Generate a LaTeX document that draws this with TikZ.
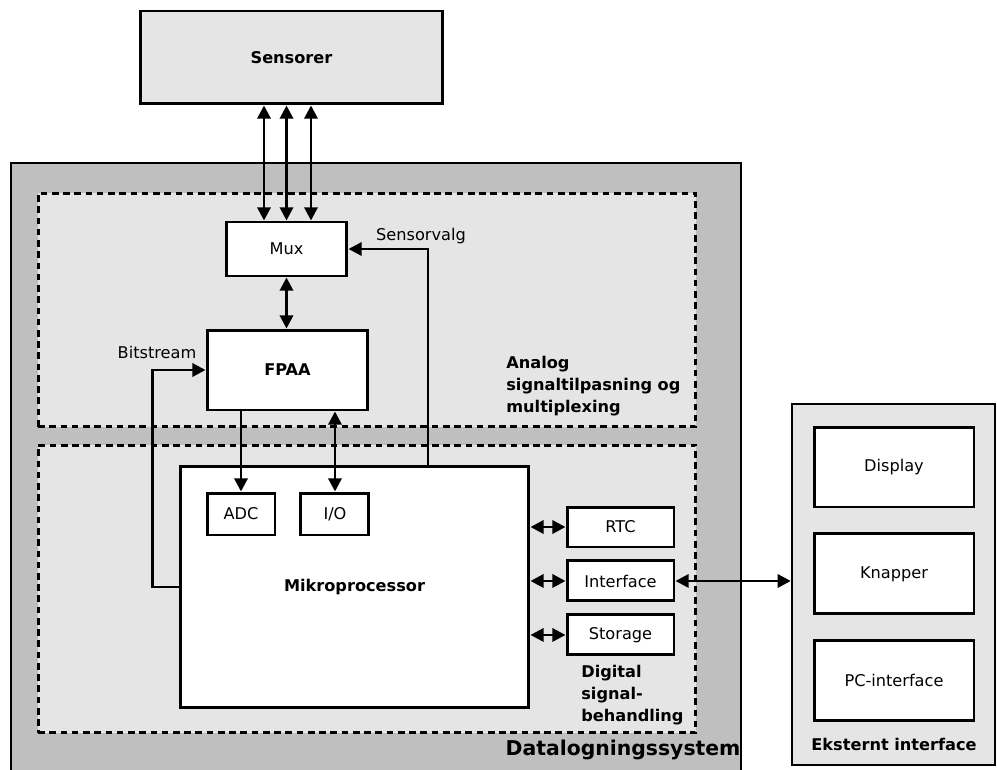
\documentclass[tikz,border=0pt]{standalone}
\usepackage{fontspec}
\setmainfont{DejaVu Sans}
\usepackage{xcolor}
\usepackage{tikz}
\usetikzlibrary{positioning, arrows.meta}
\definecolor{outergray}{HTML}{BFBFBF}
\definecolor{innergray}{HTML}{E5E5E5}

\begin{document}
\begin{tikzpicture}[
            x=0.02cm, y=-0.02cm,
            block/.style={rectangle, draw=black, fill=white, line width=1.7pt, inner sep=0pt, font=\fontsize{9.2}{11}\selectfont},
            keyblock/.style={block, font=\fontsize{9.2}{11}\selectfont\bfseries},
            sysbox/.style={rectangle, draw=black, fill=outergray, line width=1.4pt},
            stagebox/.style={rectangle, draw=black, fill=innergray, line width=1.7pt, dash pattern=on 3.8pt off 2.6pt},
            grouplabel/.style={inner sep=0pt, align=left, font=\fontsize{9.2}{12.6}\selectfont\bfseries},
            siglabel/.style={inner sep=0pt, font=\fontsize{9.2}{11}\selectfont},
            flow/.style={-{Triangle[length=7.5pt,width=7.5pt]}, line width=1.6pt},
            duplex/.style={{Triangle[length=7.5pt,width=7.5pt]}-{Triangle[length=7.5pt,width=7.5pt]}, line width=1.6pt}
        ]
        \useasboundingbox (0,0) rectangle (997,770);

        \node[sysbox, minimum width=14.6cm, minimum height=12.34cm] (dls) at (376,471.5) {};
        \node[stagebox, minimum width=13.16cm, minimum height=4.68cm] (analog) at (367,310) {};
        \node[stagebox, minimum width=13.16cm, minimum height=5.76cm] (digital) at (367,589) {};
        \node[sysbox, fill=innergray, minimum width=4.06cm, minimum height=7.22cm] (ext) at (893.5,584.5) {};

        \node[keyblock, fill=innergray, minimum width=6.06cm, minimum height=1.86cm] (sensorer) at (291.5,57.5) {Sensorer};

        \node[block, minimum width=2.42cm, minimum height=1.08cm] (mux) at (286.5,249) {Mux};
        \node[keyblock, minimum width=3.22cm, minimum height=1.6cm] (fpaa) at (287.5,370) {FPAA};
        \node[keyblock, minimum width=6.98cm, minimum height=4.84cm] (mikro) at (354.5,587) {Mikroprocessor};
        \node[block, minimum width=1.36cm, minimum height=0.84cm] (adc) at (241,514) {ADC};
        \node[block, minimum width=1.36cm, minimum height=0.84cm] (io) [right=0.46cm of adc] {I/O};

        \node[block, minimum width=2.14cm, minimum height=0.8cm] (rtc) at (620.5,527) {RTC};
        \node[block, minimum width=2.14cm, minimum height=0.8cm] (intf) [below=0.22cm of rtc] {Interface};
        \node[block, minimum width=2.14cm, minimum height=0.8cm] (storage) [below=0.22cm of intf] {Storage};

        \node[block, minimum width=3.2cm, minimum height=1.6cm] (display) at (894,467) {Display};
        \node[block, minimum width=3.2cm, minimum height=1.6cm] (knapper) [below=0.48cm of display] {Knapper};
        \node[block, minimum width=3.2cm, minimum height=1.6cm] (pcint) [below=0.48cm of knapper] {PC-interface};

        \node[grouplabel, anchor=west] (analoglbl) at (506,386) {Analog\\signaltilpasning og\\multiplexing};
        \node[grouplabel, anchor=west] (digitallbl) at (581,695) {Digital\\signal-\\behandling};
        \node[grouplabel, font=\fontsize{11.6}{14}\selectfont\bfseries] (dlslbl) at (623,750) {Datalogningssystem};
        \node[grouplabel] (extlbl) at (894,744) {Eksternt interface};
        \node[siglabel] (svlbl) at (421,236) {Sensorvalg};
        \node[siglabel] (bslbl) at (157,352) {Bitstream};

        \foreach \dx in {-0.45,0,0.49} {
            \coordinate (tap) at ([xshift=\dx cm]mux.north);
            \draw[duplex] (tap |- sensorer.south) -- (tap);
        }
        \draw[duplex] (mux.south) -- (mux.south |- fpaa.north);
        \draw[flow] ([xshift=1.47cm]mikro.north) |- (mux.east);
        \draw[flow] (mikro.west) -- ++(-26,0) |- (fpaa.west);
        \draw[flow] (fpaa.south -| adc.north) -- (adc.north);
        \draw[duplex] (io.north) -- (io.north |- fpaa.south);
        \foreach \blk in {rtc,intf,storage}
            \draw[duplex] (mikro.east |- \blk.west) -- (\blk.west);
        \draw[duplex] (intf.east) -- (ext.west |- intf.east);

    \end{tikzpicture}
\end{document}
